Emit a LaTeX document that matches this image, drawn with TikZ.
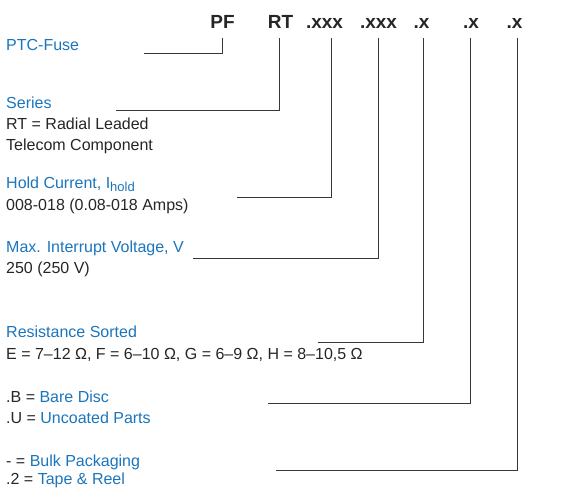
\documentclass[tikz,border=0pt]{standalone}
\usepackage{fontspec}
\setmainfont{Liberation Sans}
\definecolor{ptcblue}{RGB}{27,117,188}
\definecolor{ptcline}{RGB}{55,55,55}
\tikzset{
  code/.style={font=\fontsize{19}{22}\selectfont\bfseries, text=black!85, inner sep=0pt, anchor=base, text depth=0pt},
  head/.style={font=\fontsize{16}{20}\selectfont, text=ptcblue, inner sep=0pt, anchor=base west},
  desc/.style={head, text=black!85},
  lead/.style={draw=ptcline, line width=1pt, shorten <=10pt}
}
\newcommand{\blk}[1]{{\color{black!85}#1}}

\begin{document}
\begin{tikzpicture}[x=1pt, y=-1pt]
            \useasboundingbox (0,0) rectangle (561,488);

            % part number
            \node[code] (pf) at (222.5, 28) {PF};
            \node[code] (rt) at (280.5, 28) {RT};
            \node[code] (curr) at (324.5, 28) {.xxx};
            \node[code] (volt) at (378.5, 28) {.xxx};
            \node[code] (res) at (421.5, 28) {.x};
            \node[code] (coat) at (471, 28) {.x};
            \node[code] (pack) at (514.5, 28) {.x};

            % descriptions
            \node[head] (ptc) at (6, 50) {PTC-Fuse};
            \node[head] (ser) at (6, 108) {Series};
            \node[desc] (ser1) at (6, 129) {RT = Radial Leaded};
            \node[desc] (ser2) at (6, 150) {Telecom Component};
            \node[head] (hold) at (6, 188) {Hold Current, I\textsubscript{\fontsize{13}{13}\selectfont hold}};
            \node[desc] (hold1) at (6, 210) {008-018 (0.08-018 Amps)};
            \node[head] (max) at (6, 252) {Max. Interrupt Voltage, V};
            \node[desc] (max1) at (6, 273) {250 (250 V)};
            \node[head] (sort) at (6, 337) {Resistance Sorted};
            \node[desc] (sort1) at (6, 359) {E = 7–12 Ω, F = 6–10 Ω, G = 6–9 Ω, H = 8–10,5 Ω};
            \node[head] (bare) at (6, 402) {\blk{.B =} Bare Disc};
            \node[head] (unc) at (6, 423) {\blk{.U =} Uncoated Parts};
            \node[head] (bulk) at (6, 466) {\blk{- =} Bulk Packaging};
            \node[head] (tape) at (6, 484) {\blk{.2 =} Tape \& Reel};

            % line ends
            \coordinate (ptc-end) at (144, 53);
            \coordinate (ser-end) at (116, 110);
            \coordinate (hold-end) at (237, 197);
            \coordinate (max-end) at (193, 258);
            \coordinate (sort-end) at (318, 342);
            \coordinate (bare-end) at (268, 403);
            \coordinate (bulk-end) at (276, 470);

            \draw[lead] (pf.south) |- (ptc-end); % PF
            \draw[lead] ([xshift=-1.5pt]rt.south) |- (ser-end); % RT
            \draw[lead] ([xshift=6.5pt]curr.south) |- (hold-end); % hold current
            \draw[lead] (volt.south) |- (max-end); % voltage
            \draw[lead] ([xshift=1.5pt]res.south) |- (sort-end); % resistance
            \draw[lead] ([xshift=-1pt]coat.south) |- (bare-end); % coating
            \draw[lead] ([xshift=2.5pt]pack.south) |- (bulk-end); % packaging
        \end{tikzpicture}
\end{document}
